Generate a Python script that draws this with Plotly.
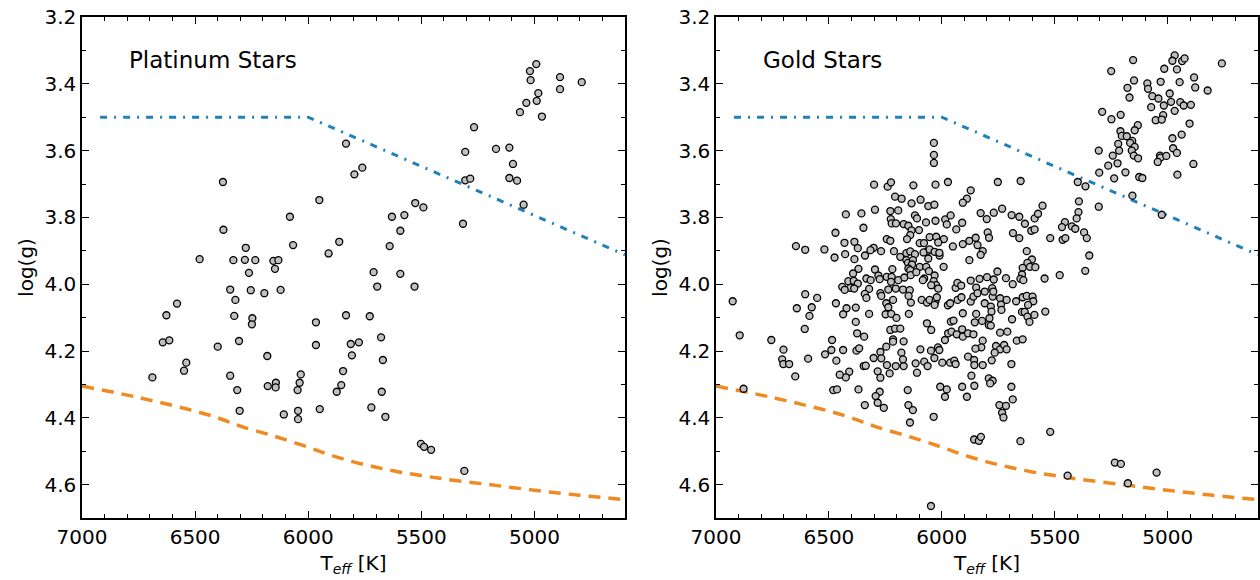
import plotly.graph_objects as go
from plotly.subplots import make_subplots

# ---------------- data ----------------
plat_teff = [6377, 6375, 6276, 6480, 6331, 6280, 6234, 6154, 6132, 6147, 6262, 6081, 6067,
             6345, 6254, 6194, 6122, 6322, 6580, 6627, 6327, 6247, 6249, 6643, 6614, 6400,
             6306, 6181, 6539, 6549, 6689, 6345, 6314, 6179, 6143, 6144, 6303, 6108,
             6033, 6038, 6047, 6045, 6045,
             4992, 5020, 5017, 4887, 4887, 4791, 4983, 4990, 5036, 5064, 4967, 5267, 5306,
             5170, 5111, 5095, 5111, 5077, 5306, 5284, 5048, 5316, 5833, 5761, 5796, 5951,
             5527, 5491, 5630, 5575, 5593, 5640, 5863, 5910, 5711, 5593, 5695, 5530, 5833,
             5728, 5966, 5966, 5812, 5776, 5678, 5807, 5670, 5846, 5854, 5874, 5675, 5949,
             5721, 5659, 5502, 5488, 5457, 5310]
plat_logg = [3.694, 3.837, 3.891, 3.925, 3.928, 3.927, 3.928, 3.930, 3.928, 3.954, 3.966, 3.798, 3.883,
             4.016, 4.018, 4.027, 4.017, 4.047, 4.058, 4.093, 4.095, 4.102, 4.120, 4.174, 4.168, 4.187,
             4.170, 4.215, 4.235, 4.259, 4.279, 4.274, 4.317, 4.305, 4.295, 4.309, 4.379, 4.390,
             4.270, 4.295, 4.317, 4.379, 4.404,
             3.341, 3.362, 3.389, 3.380, 3.416, 3.395, 3.428, 3.451, 3.457, 3.485, 3.498, 3.530, 3.604,
             3.595, 3.591, 3.640, 3.682, 3.690, 3.689, 3.684, 3.762, 3.819, 3.579, 3.651, 3.671, 3.748,
             3.757, 3.770, 3.798, 3.793, 3.840, 3.886, 3.873, 3.908, 3.964, 3.969, 4.007, 4.007, 4.093,
             4.096, 4.114, 4.182, 4.179, 4.174, 4.159, 4.213, 4.227, 4.260, 4.302, 4.322, 4.322, 4.374,
             4.369, 4.397, 4.478, 4.487, 4.496, 4.559]

gold_teff = [
    # upper dense block
    6300, 6240, 6225, 6126, 6028, 5973, 6207, 6178, 6134, 6094, 6060, 6033, 6425, 6356, 6296,
    6228, 6193, 6119, 6110, 6070, 6028, 5985, 5961, 5978, 5936, 6226, 6222, 6203, 6169, 6148,
    6134, 6101, 6140, 6154, 6471, 6347, 6244, 6228, 6431, 6387, 6372, 6302, 6316, 6269, 6212,
    6184, 6157, 6140, 6119, 6098, 6079, 6054, 6025, 5991, 6016, 6064, 6081, 6054, 6032, 5951,
    6475, 6428, 6387, 6340, 6157, 6150, 6128, 6132, 6148, 6098, 6060, 6010, 6011, 5992, 6369,
    6393, 6296, 6219, 6140, 6069, 6057, 6078, 6032, 6414, 6390, 6372, 6334, 6315, 6281, 6275,
    6244, 6222, 6225, 6193, 6166, 6138, 6113, 6084, 6036, 6025, 6441, 6405, 6388, 6430, 6322,
    6237, 6204, 6172, 6142, 6047, 6016, 5939,
    # upper middle block
    5752, 5651, 5872, 5889, 5907, 5733, 5770, 5828, 5801, 5691, 5657, 5632, 5589, 5574, 5554,
    5910, 5797, 5791, 5685, 5657, 5604, 5589, 5520, 5907, 5878, 5850, 5842, 5819, 5828, 5878,
    5624, 5601, 5621, 5642, 5610, 5586, 5754, 5645, 5652, 5545, 5478, 5872, 5833, 5800, 5770,
    5716, 5686, 5639, 5931, 5914, 5848, 5777,
    # lower left block
    6341, 6334, 6272, 6268, 6147, 6089, 6066, 6054, 6028, 6032, 6022, 5973, 5963, 5930, 6469,
    6422, 6437, 6381, 6322, 6246, 6237, 6216, 6249, 6224, 6201, 6146, 6137, 6381, 6375, 6344,
    6486, 6489, 6437, 6378, 6366, 6467, 6228, 6207, 6184, 6216, 6216, 6169, 6246, 6272, 6302,
    6268, 6346, 6337, 6243, 6204, 6169, 6179, 6172, 6284, 6272, 6231, 6410, 6425, 6452, 6481,
    6464, 6369, 6275, 6293, 6284, 6257, 6341, 6151, 6148, 6128, 6066, 6047, 5986, 5972, 5960,
    6095, 6048, 6017, 6011, 6033, 5998, 5963, 5945, 5939, 6116, 6078, 6063, 6110, 6007, 5978,
    5986, 6036,
    # lower middle block
    5913, 5872, 5860, 5842, 5810, 5810, 5775, 5772, 5742, 5738, 5713, 5736, 5783, 5780, 5789,
    5822, 5854, 5848, 5907, 5792, 5783, 5671, 5642, 5624, 5598, 5595, 5618, 5645, 5633, 5621,
    5612, 5590, 5689, 5542, 5948, 5957, 5934, 5910, 5907, 5884, 5860, 5819, 5825, 5851, 5760,
    5742, 5724, 5713, 5766, 5742, 5710, 5668, 5642, 5884, 5857, 5856, 5819, 5779, 5692, 5869,
    5792, 5775, 5786, 5910, 5856, 5889, 5692, 5686, 5745, 5716, 5733, 5727,
    # hot sparse edge
    6646, 6605, 6520, 6926, 6605, 6552, 6642, 6576, 6586, 6607, 6895, 6755, 6701, 6517, 6707,
    6702, 6676, 6592, 6649, 6878,
    # bottom stragglers
    6141, 5857, 5836, 5827, 5520, 5652, 5443, 6048, 5347, 5365, 5234, 5207, 5176, 5049,
    6035, 6035, 6035,
    # cool subgiant clump
    5153, 5250, 4969, 4979, 4936, 4925, 4760, 5015, 4959, 4883, 5149, 5090, 5087, 5178, 5169,
    5031, 4947, 4878, 4823, 4991, 5068, 5041, 4985, 4944, 4929, 4897, 5017, 5073, 4969, 5290,
    5208, 5249, 5020, 5053, 5026, 4903, 5132, 5146, 5209, 5203, 5181, 5157, 5166, 5146, 4938,
    4979, 5219, 5215, 5159, 4976, 4959, 5305, 5243, 5150, 5131, 5034, 5032, 5006, 5044, 5222,
    5263, 4886, 5303, 5187, 5126, 5112, 5237, 4957, 5398, 5364, 5156, 5393, 5305, 5026, 5395,
    5403, 5455, 5424, 5409, 5468, 5465, 5453, 5370, 5358]
gold_logg = [
    3.702, 3.708, 3.695, 3.704, 3.702, 3.694, 3.738, 3.744, 3.758, 3.747, 3.766, 3.762, 3.791, 3.788, 3.777,
    3.781, 3.779, 3.794, 3.803, 3.815, 3.810, 3.806, 3.794, 3.821, 3.836, 3.805, 3.818, 3.818, 3.820, 3.825,
    3.839, 3.838, 3.853, 3.865, 3.846, 3.831, 3.865, 3.870, 3.876, 3.873, 3.892, 3.891, 3.898, 3.901, 3.901,
    3.918, 3.907, 3.902, 3.910, 3.877, 3.877, 3.859, 3.858, 3.865, 3.875, 3.901, 3.905, 3.896, 3.903, 3.887,
    3.920, 3.910, 3.925, 3.914, 3.928, 3.936, 3.928, 3.941, 3.953, 3.948, 3.923, 3.914, 3.906, 3.948, 3.954,
    3.968, 3.956, 3.955, 3.958, 3.948, 3.961, 3.983, 3.974, 3.991, 3.990, 3.998, 3.983, 3.988, 3.974, 3.985,
    3.978, 3.978, 3.993, 3.988, 3.980, 3.973, 3.964, 3.988, 3.991, 4.003, 4.008, 4.011, 4.013, 4.017, 4.014,
    4.016, 4.013, 4.016, 4.018, 4.003, 4.013, 4.011,
    3.694, 3.691, 3.719, 3.744, 3.756, 3.774, 3.786, 3.787, 3.805, 3.793, 3.798, 3.819, 3.803, 3.789, 3.765,
    3.816, 3.845, 3.861, 3.847, 3.862, 3.840, 3.836, 3.862, 3.880, 3.870, 3.861, 3.883, 3.901, 3.912, 3.928,
    3.901, 3.926, 3.936, 3.951, 3.948, 3.949, 3.962, 3.971, 3.984, 3.983, 3.973, 3.989, 3.984, 3.979, 3.986,
    3.982, 4.000, 3.988, 3.996, 4.004, 4.010, 4.012,
    4.029, 4.041, 4.027, 4.035, 4.035, 4.047, 4.055, 4.047, 4.051, 4.062, 4.039, 4.063, 4.057, 4.047, 4.057,
    4.072, 4.090, 4.070, 4.089, 4.057, 4.069, 4.047, 4.090, 4.089, 4.101, 4.089, 4.055, 4.113, 4.147, 4.157,
    4.167, 4.197, 4.197, 4.199, 4.192, 4.229, 4.137, 4.133, 4.133, 4.165, 4.172, 4.171, 4.187, 4.203, 4.221,
    4.222, 4.245, 4.244, 4.242, 4.245, 4.245, 4.205, 4.225, 4.261, 4.280, 4.267, 4.262, 4.279, 4.271, 4.317,
    4.315, 4.315, 4.322, 4.335, 4.355, 4.370, 4.362, 4.317, 4.362, 4.377, 4.117, 4.137, 4.167, 4.147, 4.112,
    4.195, 4.199, 4.189, 4.197, 4.221, 4.235, 4.235, 4.229, 4.239, 4.237, 4.232, 4.245, 4.265, 4.307, 4.315,
    4.337, 4.397,
    4.039, 4.052, 4.037, 4.027, 4.022, 4.057, 4.037, 4.022, 4.042, 4.061, 4.047, 4.077, 4.067, 4.082, 4.102,
    4.110, 4.114, 4.089, 4.087, 4.122, 4.124, 4.051, 4.039, 4.035, 4.037, 4.051, 4.062, 4.083, 4.083, 4.097,
    4.113, 4.092, 4.105, 4.082, 4.109, 4.142, 4.150, 4.135, 4.157, 4.147, 4.150, 4.169, 4.189, 4.193, 4.185,
    4.195, 4.182, 4.195, 4.205, 4.145, 4.142, 4.169, 4.165, 4.217, 4.227, 4.242, 4.242, 4.228, 4.239, 4.274,
    4.282, 4.289, 4.297, 4.307, 4.304, 4.337, 4.307, 4.345, 4.362, 4.364, 4.385, 4.399,
    3.886, 3.897, 3.896, 4.051, 4.030, 4.041, 4.072, 4.069, 4.095, 4.134, 4.153, 4.167, 4.196, 4.210, 4.225,
    4.239, 4.239, 4.223, 4.276, 4.313,
    4.414, 4.465, 4.469, 4.457, 4.442, 4.470, 4.573, 4.664, 3.914, 3.960, 4.534, 4.538, 4.596, 4.564,
    3.577, 3.613, 3.637,
    3.329, 3.362, 3.315, 3.331, 3.332, 3.324, 3.339, 3.355, 3.357, 3.381, 3.390, 3.399, 3.415, 3.412, 3.441,
    3.394, 3.395, 3.411, 3.420, 3.429, 3.437, 3.444, 3.454, 3.455, 3.465, 3.463, 3.465, 3.470, 3.481, 3.484,
    3.493, 3.506, 3.494, 3.509, 3.507, 3.519, 3.524, 3.539, 3.542, 3.556, 3.557, 3.571, 3.577, 3.589, 3.552,
    3.563, 3.580, 3.600, 3.600, 3.593, 3.607, 3.600, 3.615, 3.615, 3.623, 3.615, 3.621, 3.616, 3.634, 3.638,
    3.645, 3.640, 3.666, 3.665, 3.679, 3.682, 3.683, 3.672, 3.694, 3.707, 3.735, 3.752, 3.768, 3.792, 3.784,
    3.803, 3.814, 3.827, 3.834, 3.829, 3.867, 3.862, 3.845, 3.862]

# boundary curves (same in both panels)
upper_teff = [6920, 6000, 4600]
upper_logg = [3.5, 3.5, 3.912]
lower_teff = [7000, 6800, 6700, 6600, 6500, 6400, 6300, 6150, 6000, 5900, 5800, 5700,
              5600, 5500, 5400, 5200, 5000, 4800, 4600]
lower_logg = [4.305, 4.332, 4.347, 4.363, 4.380, 4.400, 4.425, 4.455, 4.488, 4.512, 4.532,
              4.548, 4.562, 4.573, 4.583, 4.600, 4.617, 4.632, 4.645]

panel_titles = ["Platinum Stars", "Gold Stars"]
xtick_vals = [7000, 6500, 6000, 5500, 5000]

# ---------------- figure ----------------
FONT = "DejaVu Sans"
fig = make_subplots(rows=1, cols=2, horizontal_spacing=0.0775)

for col, (tx, gy) in enumerate([(plat_teff, plat_logg), (gold_teff, gold_logg)], start=1):
    fig.add_trace(go.Scatter(x=upper_teff, y=upper_logg, mode="lines",
                             line=dict(color="#1f80bb", width=3, dash="7px,7px,2px,7px"),
                             hoverinfo="skip", showlegend=False), row=1, col=col)
    fig.add_trace(go.Scatter(x=lower_teff, y=lower_logg, mode="lines",
                             line=dict(color="#ef8a22", width=3.5, dash="12px,8px", shape="spline"),
                             hoverinfo="skip", showlegend=False), row=1, col=col)
    fig.add_trace(go.Scatter(x=tx, y=gy, mode="markers",
                             marker=dict(size=7, color="#c0c0c0",
                                         line=dict(color="black", width=1.3)),
                             showlegend=False), row=1, col=col)

axis_common = dict(showgrid=False, zeroline=False, showline=True, linecolor="black",
                   linewidth=1.5, mirror="ticks", ticks="inside", ticklen=7, tickwidth=1.3,
                   tickcolor="black", automargin=False,
                   tickfont=dict(family=FONT, size=20, color="black"))

for col in (1, 2):
    fig.update_xaxes(range=[7000, 4600], tickvals=xtick_vals,
                     minor=dict(dtick=100, ticks="inside", ticklen=4, tickwidth=1.1,
                                tickcolor="black"),
                     title=dict(text="T<sub><i>eff</i></sub> [K]",
                                font=dict(family=FONT, size=20, color="black"), standoff=8),
                     row=1, col=col, **axis_common)
    fig.update_yaxes(range=[4.7, 3.2], tick0=3.2, dtick=0.2, tickformat=".1f",
                     minor=dict(dtick=0.1, ticks="inside", ticklen=4, tickwidth=1.1,
                                tickcolor="black"),
                     title=dict(text="log(g)", font=dict(family=FONT, size=20, color="black"),
                                standoff=5),
                     row=1, col=col, **axis_common)

fig.update_layout(xaxis=dict(domain=[0, 0.4617]), xaxis2=dict(domain=[0.5391, 1.0]))

for i, name in enumerate(panel_titles):
    xref = "x domain" if i == 0 else "x2 domain"
    yref = "y domain" if i == 0 else "y2 domain"
    fig.add_annotation(text=name, x=0.083, y=0.915, xref=xref, yref=yref,
                       xanchor="left", yanchor="middle", showarrow=False,
                       font=dict(family=FONT, size=23, color="black"))

fig.update_layout(width=1260, height=580, margin=dict(l=82, r=2, t=17, b=62),
                  plot_bgcolor="white", paper_bgcolor="white",
                  font=dict(family=FONT, color="black"))

fig.write_html("out.html", config={"displayModeBar": False},
               post_script="document.body.style.margin='0';"
                           "document.body.style.overflow='hidden';")
